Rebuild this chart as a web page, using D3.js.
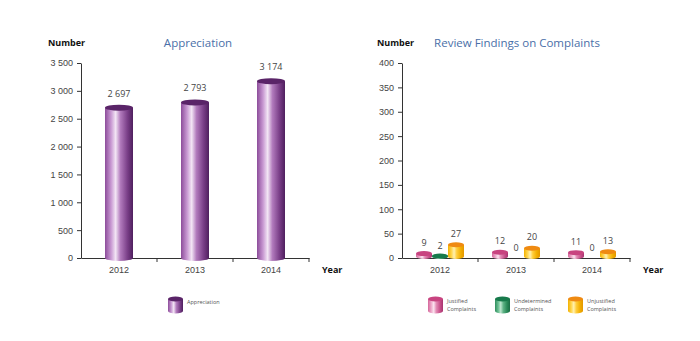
<!DOCTYPE html>
<html lang="en">
<head>
<meta charset="UTF-8">
<title>Appreciation and Review Findings</title>
<script src="https://d3js.org/d3.v7.min.js"></script>
<style>
  body { margin: 0; background: #fff; }
  svg { display: block; font-family: "Open Sans", "DejaVu Sans", sans-serif; }
  .tick text { fill: #444; font-size: 9px; }
  .domain, .tick line { stroke: #333; }
</style>
</head>
<body>
<svg id="chart" width="700" height="341"></svg>
<script>
// data
var years = ["2012", "2013", "2014"];
var appreciation = [2697, 2793, 3174];
var appTicks = [0, 500, 1000, 1500, 2000, 2500, 3000, 3500];

var complaintSeries = ["Justified Complaints", "Undetermined Complaints", "Unjustified Complaints"];
var justified = [9, 12, 11];
var undetermined = [2, 0, 0];
var unjustified = [27, 20, 13];
var compTicks = [0, 50, 100, 150, 200, 250, 300, 350, 400];

var svg = d3.select("#chart");
var defs = svg.append("defs");

// cylinder shading
var palettes = {
  purple: { stops: ["#8c4c9a", "#c99ad3", "#f3e6f5", "#b27bbd", "#7a3f88", "#4f1f5e"], top: "#5a2468" },
  pink:   { stops: ["#d4669a", "#eeaacb", "#fbe3ef", "#e28ab4", "#c8508a", "#a83470"], top: "#c84480" },
  green:  { stops: ["#2f8d5d", "#6cc093", "#bfe6cf", "#5fb386", "#2a8a58", "#1a6b44"], top: "#177a4b" },
  orange: { stops: ["#f3b100", "#ffd64f", "#fff0b0", "#ffcd3a", "#f2ae00", "#e39700"], top: "#ef8a12" }
};
var offsets = [0, 0.22, 0.38, 0.55, 0.8, 1];
Object.keys(palettes).forEach(function(k) {
  var g = defs.append("linearGradient").attr("id", "grad-" + k)
    .attr("x1", "0%").attr("x2", "100%").attr("y1", "0%").attr("y2", "0%");
  palettes[k].stops.forEach(function(c, i) {
    g.append("stop").attr("offset", offsets[i]).attr("stop-color", c);
  });
});

function cylinder(g, x, w, yTop, yBase, key, ry) {
  var p = palettes[key];
  var top = Math.min(yTop, yBase - 0.5);
  g.append("ellipse")
    .attr("cx", x + w / 2).attr("cy", yBase).attr("rx", w / 2).attr("ry", ry)
    .attr("fill", "url(#grad-" + key + ")");
  g.append("rect")
    .attr("x", x).attr("y", top).attr("width", w).attr("height", yBase - top)
    .attr("fill", "url(#grad-" + key + ")");
  g.append("ellipse")
    .attr("cx", x + w / 2).attr("cy", top).attr("rx", w / 2).attr("ry", ry)
    .attr("fill", p.top);
}

function frame(left, right, bottom, yScale, ticks, fmt, title, titleX, numberX) {
  var g = svg.append("g");
  var x = d3.scaleBand().domain(years).range([left, right]);

  g.append("g")
    .attr("transform", "translate(" + left + ",0)")
    .call(d3.axisLeft(yScale).tickValues(ticks).tickFormat(fmt).tickSize(4).tickSizeOuter(0))
    .call(function(a) { a.selectAll("text").attr("x", -8); });

  var xa = g.append("g")
    .attr("transform", "translate(0," + bottom + ")")
    .call(d3.axisBottom(x).tickSize(0).tickSizeOuter(0));
  xa.selectAll("text").attr("dy", "1.3em");
  // separators between years point downward
  g.selectAll(".sep").data(years).enter().append("line")
    .attr("x1", function(d) { return x(d) + x.bandwidth(); })
    .attr("x2", function(d) { return x(d) + x.bandwidth(); })
    .attr("y1", bottom).attr("y2", bottom + 4)
    .attr("stroke", "#333");

  g.append("text").attr("x", numberX).attr("y", 46)
    .attr("font-size", "9px").attr("font-weight", "bold").attr("fill", "#111").text("Number");
  g.append("text").attr("x", right + 13).attr("y", 273)
    .attr("font-size", "9px").attr("font-weight", "bold").attr("fill", "#111").text("Year");
  g.append("text").attr("x", titleX).attr("y", 47).attr("text-anchor", "middle")
    .attr("font-size", "11.5px").attr("fill", "#4a6fa8").text(title);
  return { g: g, x: x };
}

var spaceFmt = function(d) { return d3.format(",")(d).replace(/,/g, " "); };

// Appreciation
var yA = d3.scaleLinear().domain([0, 3500]).range([258, 63]);
var fa = frame(81, 309, 258, yA, appTicks, spaceFmt, "Appreciation", 198, 48);
var bw = 28;
appreciation.forEach(function(v, i) {
  var cx = fa.x(years[i]) + fa.x.bandwidth() / 2;
  cylinder(fa.g, cx - bw / 2, bw, yA(v), yA(0), "purple", 3);
  fa.g.append("text").attr("x", cx).attr("y", yA(v) - 11).attr("text-anchor", "middle")
    .attr("font-size", "9px").attr("fill", "#444").text(spaceFmt(v));
});

// Review findings on complaints
var yC = d3.scaleLinear().domain([0, 400]).range([258, 63]);
var fc = frame(402, 630, 258, yC, compTicks, d3.format("d"), "Review Findings on Complaints", 517, 377);
var sub = d3.scaleBand().domain(complaintSeries).range([-24, 24]);
var seriesValues = [justified, undetermined, unjustified];
var seriesKeys = ["pink", "green", "orange"];
years.forEach(function(yr, i) {
  var cx = fc.x(yr) + fc.x.bandwidth() / 2;
  complaintSeries.forEach(function(s, j) {
    var v = seriesValues[j][i];
    var bx = cx + sub(s);
    if (v > 0) cylinder(fc.g, bx, sub.bandwidth(), yC(v), yC(0) - 1.5, seriesKeys[j], 2.5);
    var ly = v > 0 ? yC(v) - 8 : yC(0) - 7;
    fc.g.append("text").attr("x", bx + sub.bandwidth() / 2).attr("y", ly).attr("text-anchor", "middle")
      .attr("font-size", "9px").attr("fill", "#444").text(v);
  });
});

// legends
function legendItem(x, y, key, lines) {
  var g = svg.append("g");
  cylinder(g, x, 15, y, y + 12, key, 2.5);
  lines.forEach(function(t, i) {
    g.append("text").attr("x", x + 19).attr("y", y + 5 + i * 7.5 - (lines.length - 1) * 1)
      .attr("font-size", "5.5px").attr("fill", "#555").text(t);
  });
}
legendItem(168, 299, "purple", ["Appreciation"]);
legendItem(428, 299, "pink", ["Justified", "Complaints"]);
legendItem(495, 299, "green", ["Undetermined", "Complaints"]);
legendItem(568, 299, "orange", ["Unjustified", "Complaints"]);
</script>
</body>
</html>
